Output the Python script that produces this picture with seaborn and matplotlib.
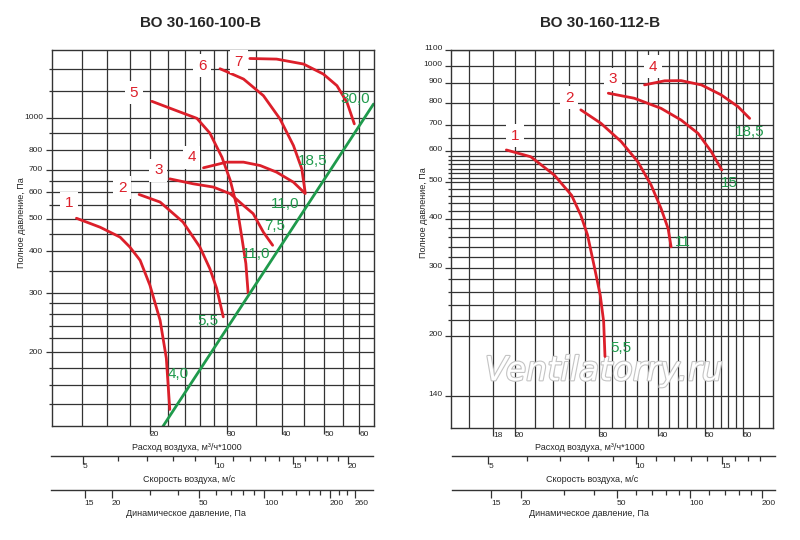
import matplotlib
matplotlib.use('Agg')
import matplotlib.pyplot as plt
import matplotlib.patheffects as pe
from matplotlib import font_manager
from matplotlib.ticker import FixedLocator, FuncFormatter, NullFormatter
import pandas as pd
import seaborn as sns

# ---- left chart: ВО 30-160-100-В (flow, 1000 m3/h  /  total pressure, Pa)
L1_Q = [13.6, 15.4, 17.1, 18.0, 19.0, 20.0, 21.1, 21.8, 22.2]
L1_P = [502, 472, 441, 412, 376, 317, 249, 192, 135]
L2_Q = [18.9, 21.1, 23.8, 26.0, 27.4, 28.4, 29.4]
L2_P = [591, 561, 489, 412, 355, 310, 255]
L3_Q = [22.2, 25.1, 27.9, 30.5, 32.7, 34.4, 36.3, 38.1]
L3_P = [658, 636, 622, 594, 548, 518, 456, 417]
L4_Q = [26.5, 29.9, 32.7, 35.7, 38.9, 42.5, 45.2]
L4_P = [710, 738, 738, 721, 689, 643, 595]
L5_Q = [20.2, 23.0, 25.6, 27.4, 29.2, 30.5, 31.6, 32.4, 33.1, 33.5]
L5_P = [1121, 1051, 997, 901, 763, 651, 542, 441, 368, 300]
L6_Q = [28.9, 32.7, 36.3, 39.6, 42.5, 44.4, 45.2]
L6_P = [1402, 1306, 1165, 993, 827, 705, 599]
L7_Q = [33.8, 38.9, 44.8, 49.7, 53.4, 56.3, 58.5]
L7_P = [1504, 1498, 1448, 1352, 1248, 1113, 960]
SYS_Q = [21.4, 64.7]
SYS_P = [120, 1100]

L_NUM = ['1', '2', '3', '4', '5', '6', '7']
L_NUM_Q = [13.1, 17.3, 20.9, 24.9, 18.4, 26.3, 31.9]
L_NUM_P = [556, 620, 697, 762, 1189, 1431, 1471]
L_KW = ['4,0', '5,5', '11,0', '7,5', '11,0', '18,5', '30,0']
L_KW_Q = [23.2, 27.1, 34.9, 38.6, 40.7, 47.1, 58.8]
L_KW_P = [172, 248, 392, 475, 552, 746, 1141]

# ---- right chart: ВО 30-160-112-В
R1_Q = [19.2, 21.6, 24.2, 26.3, 27.5, 28.4, 29.4, 30.2, 30.7, 30.9]
R1_P = [605, 581, 521, 462, 410, 365, 299, 255, 218, 177]
R2_Q = [27.5, 30.3, 33.4, 36.2, 38.6, 40.5, 41.9, 42.5]
R2_P = [768, 709, 636, 564, 491, 427, 379, 340]
R3_Q = [31.4, 35.6, 40.5, 44.6, 48.4, 51.6, 54.3]
R3_P = [848, 823, 775, 723, 668, 599, 537]
R4_Q = [37.4, 41.2, 44.6, 49.2, 54.1, 58.7, 62.1]
R4_P = [891, 913, 914, 891, 840, 783, 730]

R_NUM = ['1', '2', '3', '4']
R_NUM_Q = [20.0, 26.0, 32.1, 39.0]
R_NUM_P = [659, 825, 922, 992]
R_KW = ['5,5', '11', '15', '18,5']
R_KW_Q = [33.4, 44.9, 56.4, 62.1]
R_KW_P = [186, 349, 498, 675]

# ---- axis ticks
L_X_MAJ = [20, 30, 40, 50, 60]
L_X_MIN = [14, 16, 18, 22, 24, 26, 28, 35, 45, 55]
L_Y_MAJ = [200, 300, 400, 500, 600, 700, 800, 1000]
L_Y_MIN = [140, 160, 180, 220, 240, 260, 280, 350, 450, 550, 650, 900, 1200, 1400]
R_X_MAJ = [18, 20, 30, 40, 50, 60]
R_X_MIN = [16, 22, 24, 26, 28, 32, 34, 36, 38, 42, 44, 46, 48, 52, 54, 56, 58, 65]
R_Y_MAJ = [140, 200, 300, 400, 500, 600, 700, 800, 900, 1000, 1100]
R_Y_MIN = [220, 240, 260, 280, 320, 340, 360, 380, 420, 440, 460, 480,
           513, 527, 541, 555, 570, 585, 650]

L_V_MAJ = [5, 10, 15, 20]
L_V_MIN = [6, 7, 8, 9, 11, 12, 13, 14, 16, 17, 18, 19]
L_D_MAJ = [15, 20, 50, 100, 200, 260]
L_D_MIN = [30, 40, 60, 70, 80, 90, 120, 140, 160, 180, 220, 240]
R_V_MAJ = [5, 10, 15]
R_V_MIN = [6, 7, 8, 9, 11, 12, 13, 14, 16, 17, 18]
R_D_MAJ = [15, 20, 50, 100, 200]
R_D_MIN = [30, 40, 60, 70, 80, 90, 120, 140, 160, 180]

RED = '#dc1f2a'
GREEN = '#1f9a4c'
GRID = '#333333'

sns.set_style('white')
avail = {f.name for f in font_manager.fontManager.ttflist}
NARROW = 'Liberation Sans Narrow' if 'Liberation Sans Narrow' in avail else 'Liberation Sans'
plt.rcParams['font.family'] = [NARROW, 'DejaVu Sans']
LBL_SIZE = 12 if NARROW == 'Liberation Sans Narrow' else 11

W, H = 800, 540
fig = plt.figure(figsize=(8, 5.4), dpi=100, facecolor='white')


def px_axes(x0, y0, x1, y1):
    return fig.add_axes([x0 / W, 1 - y1 / H, (x1 - x0) / W, (y1 - y0) / H])


fmt = FuncFormatter(lambda v, _: f'{v:g}')


def main_axes(box, xlim, ylim, xmaj, xmin, ymaj, ymin, ylab_va):
    ax = px_axes(*box)
    ax.set_xscale('log')
    ax.set_yscale('log')
    ax.set_xlim(xlim)
    ax.set_ylim(ylim)
    ax.xaxis.set_major_locator(FixedLocator(xmaj))
    ax.xaxis.set_minor_locator(FixedLocator(xmin))
    ax.yaxis.set_major_locator(FixedLocator(ymaj))
    ax.yaxis.set_minor_locator(FixedLocator(ymin))
    ax.xaxis.set_major_formatter(fmt)
    ax.yaxis.set_major_formatter(fmt)
    ax.xaxis.set_minor_formatter(NullFormatter())
    ax.yaxis.set_minor_formatter(NullFormatter())
    ax.set_axisbelow(True)
    ax.grid(True, which='both', color=GRID, lw=0.9)
    ax.tick_params(bottom=True, left=True, which='both')
    ax.tick_params(axis='x', which='major', length=6, width=0.9, color=GRID,
                   pad=-2.5, labelsize=6)
    ax.tick_params(axis='x', which='minor', length=0)
    ax.tick_params(axis='y', which='major', length=4.5, width=0.9, color=GRID,
                   pad=1.5, labelsize=6)
    ax.tick_params(axis='y', which='minor', length=2, width=0.9, color=GRID)
    plt.setp(ax.get_xticklabels(), ha='left')
    plt.setp(ax.get_yticklabels(), va=ylab_va)
    for s in ax.spines.values():
        s.set_color(GRID)
        s.set_linewidth(1.0)
    return ax


def scale_axes(x0, x1, y, xlim, maj, mins, pad):
    ax = fig.add_axes([x0 / W, 1 - y / H, (x1 - x0) / W, 0.0001])
    ax.set_xscale('log')
    ax.set_xlim(xlim)
    ax.set_yticks([])
    ax.patch.set_visible(False)
    for s in ['top', 'left', 'right']:
        ax.spines[s].set_visible(False)
    ax.spines['bottom'].set_color(GRID)
    ax.spines['bottom'].set_linewidth(1.0)
    ax.xaxis.set_major_locator(FixedLocator(maj))
    ax.xaxis.set_minor_locator(FixedLocator(mins))
    ax.xaxis.set_major_formatter(fmt)
    ax.xaxis.set_minor_formatter(NullFormatter())
    ax.tick_params(axis='x', which='both', bottom=True, direction='out')
    ax.tick_params(axis='x', which='major', length=6, width=0.9, color=GRID,
                   pad=pad, labelsize=6)
    ax.tick_params(axis='x', which='minor', length=3.5, width=0.9, color=GRID)
    plt.setp(ax.get_xticklabels(), ha='left')
    return ax


def curves_df(pairs):
    rows = [pd.DataFrame({'Q': q, 'P': p, 'curve': i}) for i, (q, p) in enumerate(pairs)]
    return pd.concat(rows, ignore_index=True)


num_box = dict(boxstyle='square,pad=0.3', fc='white', ec='none')

# ---------------- left chart
ax_l = main_axes((51.5, 49.5, 373.5, 426), (11.93, 64.7), (120.5, 1600),
                 L_X_MAJ, L_X_MIN, L_Y_MAJ, L_Y_MIN, 'center')
df_l = curves_df([(L1_Q, L1_P), (L2_Q, L2_P), (L3_Q, L3_P), (L4_Q, L4_P),
                  (L5_Q, L5_P), (L6_Q, L6_P), (L7_Q, L7_P)])
sns.lineplot(data=df_l, x='Q', y='P', units='curve', estimator=None, sort=False,
             color=RED, lw=2, ax=ax_l, legend=False)
sns.lineplot(x=SYS_Q, y=SYS_P, color=GREEN, lw=2, ax=ax_l, sort=False)
ax_l.set_xlim(11.93, 64.7)
ax_l.set_ylim(120.5, 1600)
ax_l.set_xlabel('')
ax_l.set_ylabel('')
for t, q, p in zip(L_NUM, L_NUM_Q, L_NUM_P):
    ax_l.text(q, p, t, color=RED, fontsize=LBL_SIZE, ha='center', va='center',
              bbox=num_box, zorder=4)
for t, q, p in zip(L_KW, L_KW_Q, L_KW_P):
    ax_l.text(q, p, t, color=GREEN, fontsize=LBL_SIZE, ha='center', va='center', zorder=4)

scale_axes(50.5, 373, 456, (4.22, 22.85), L_V_MAJ, L_V_MIN, -1)
scale_axes(50.5, 373, 490, (10.46, 315), L_D_MAJ, L_D_MIN, 1)

# ---------------- right chart
ax_r = main_axes((451, 49.5, 773, 427.5), (14.7, 69.5), (116, 1100),
                 R_X_MAJ, R_X_MIN, R_Y_MAJ, R_Y_MIN, 'baseline')
df_r = curves_df([(R1_Q, R1_P), (R2_Q, R2_P), (R3_Q, R3_P), (R4_Q, R4_P)])
sns.lineplot(data=df_r, x='Q', y='P', units='curve', estimator=None, sort=False,
             color=RED, lw=2, ax=ax_r, legend=False)
ax_r.set_xlim(14.7, 69.5)
ax_r.set_ylim(116, 1100)
ax_r.set_xlabel('')
ax_r.set_ylabel('')
for t, q, p in zip(R_NUM, R_NUM_Q, R_NUM_P):
    ax_r.text(q, p, t, color=RED, fontsize=LBL_SIZE, ha='center', va='center',
              bbox=num_box, zorder=4)
for t, q, p in zip(R_KW, R_KW_Q, R_KW_P):
    ax_r.text(q, p, t, color=GREEN, fontsize=LBL_SIZE, ha='center', va='center', zorder=4)
ax_r.text(0.475, 0.15, 'Ventilatorry.ru', transform=ax_r.transAxes, family='DejaVu Sans',
          style='italic', fontsize=24, color='white', ha='center', va='center', zorder=1,
          path_effects=[pe.withStroke(linewidth=1.6, foreground='#c4c4c4')])

scale_axes(452, 775, 456, (4.21, 19.3), R_V_MAJ, R_V_MIN, -1)
scale_axes(452, 775, 490, (10.3, 226.6), R_D_MAJ, R_D_MIN, 1)

# ---------------- titles and axis captions
fig.text(200 / W, 1 - 23 / H, 'ВО 30-160-100-В', ha='center', va='center',
         fontsize=11, fontweight='bold', family='Liberation Sans')
fig.text(600 / W, 1 - 23 / H, 'ВО 30-160-112-В', ha='center', va='center',
         fontsize=11, fontweight='bold', family='Liberation Sans')

for cx, cy in [(21.7, 223), (423, 213)]:
    fig.text(cx / W, 1 - cy / H, 'Полное давление, Па', rotation=90,
             ha='center', va='center', fontsize=6.5)
for cx in [187, 590]:
    fig.text(cx / W, 1 - 447 / H, 'Расход воздуха, м³/ч*1000', ha='center', va='center', fontsize=6.5)
    fig.text((cx + 2) / W, 1 - 479 / H, 'Скорость воздуха, м/с', ha='center', va='center', fontsize=6.5)
    fig.text((cx - 1) / W, 1 - 514 / H, 'Динамическое давление, Па', ha='center', va='center', fontsize=6.5)

fig.savefig('out.png', dpi=100, facecolor='white')
